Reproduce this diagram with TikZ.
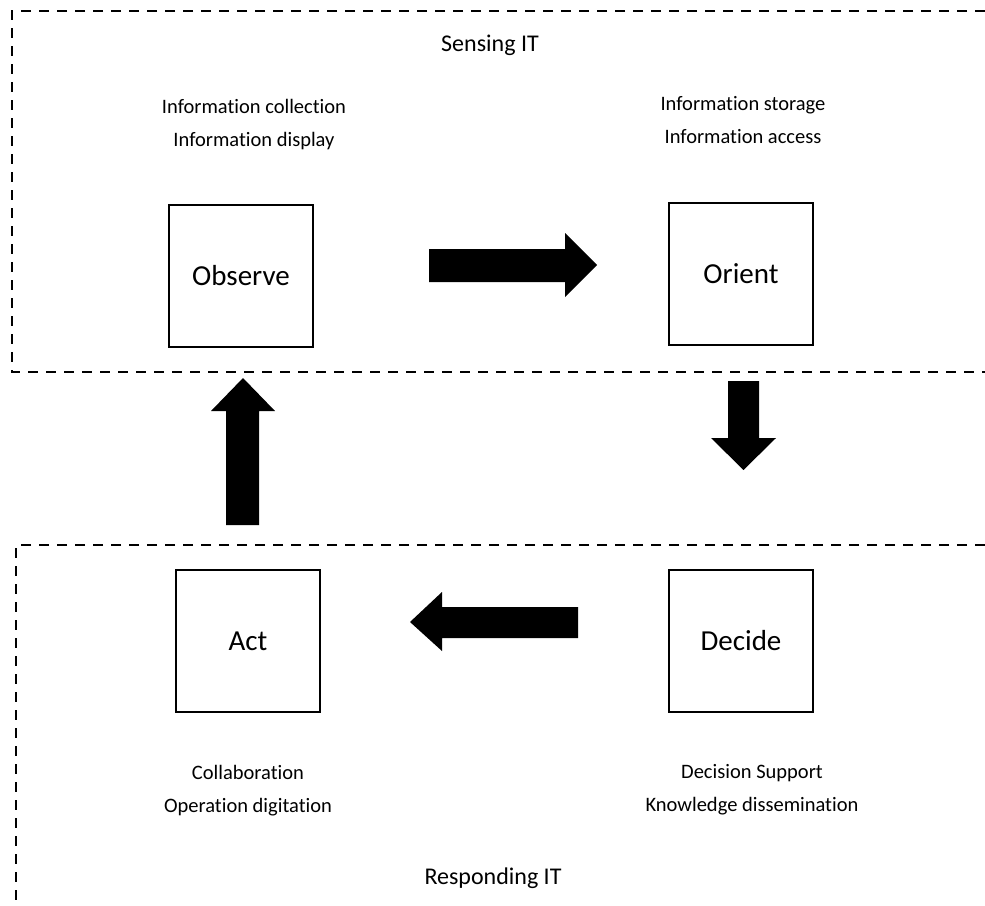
\documentclass[tikz,border=0pt]{standalone}
\usepackage{fontspec}
\setmainfont{Carlito}[Ligatures=NoCommon]
\begin{document}
\begin{tikzpicture}[x=1pt,y=-1pt,
  stage/.style={draw=black,line width=2.5pt,minimum width=144pt,minimum height=142pt,inner sep=0pt,font=\fontsize{29}{34}\selectfont},
  lbl/.style={align=center,font=\fontsize{20.5}{33}\selectfont,inner sep=0pt},
  title/.style={font=\fontsize{24}{28}\selectfont,inner sep=0pt},
  zone/.style={line width=2.7pt,dash pattern=on 10pt off 8pt},
  blockarrow/.style={fill=black,draw=none}]
\useasboundingbox (0,0) rectangle (985,905);
% dashed zones
\draw[zone] (985,11) -- (12,11) -- (12,372) -- (985,372);
\draw[zone] (985,545) -- (16,545) -- (16,905);
% stage boxes
\node[stage] (observe) at (241,276) {Observe};
\node[stage] (orient) at (741,274) {Orient};
\node[stage] (act) at (248,641) {Act};
\node[stage] (decide) at (741,641) {Decide};
% labels
\node[title] (sensing) at (490,45) {Sensing IT};
\node[title] (responding) at (493,878) {Responding IT};
\node[lbl] (obslbl) at (254,125) {Information collection\\Information display};
\node[lbl] (orilbl) at (743,120) {Information storage\\Information access};
\node[lbl] (actlbl) at (248,791) {Collaboration\\Operation digitation};
\node[lbl] (declbl) at (752,790) {Decision Support\\Knowledge dissemination};
% block arrows
\fill[blockarrow] (429,249) -- (565,249) -- (565,233) -- (597,265) -- (565,297) -- (565,282) -- (429,282) -- cycle;
\fill[blockarrow] (728,381) -- (759,381) -- (759,438) -- (776,438) -- (743.5,470) -- (711,438) -- (728,438) -- cycle;
\fill[blockarrow] (578,607) -- (442,607) -- (442,592) -- (410,622) -- (442,651) -- (442,638) -- (578,638) -- cycle;
\fill[blockarrow] (226,525) -- (226,411) -- (211,411) -- (243,378) -- (275,411) -- (259,411) -- (259,525) -- cycle;
\end{tikzpicture}
\end{document}
